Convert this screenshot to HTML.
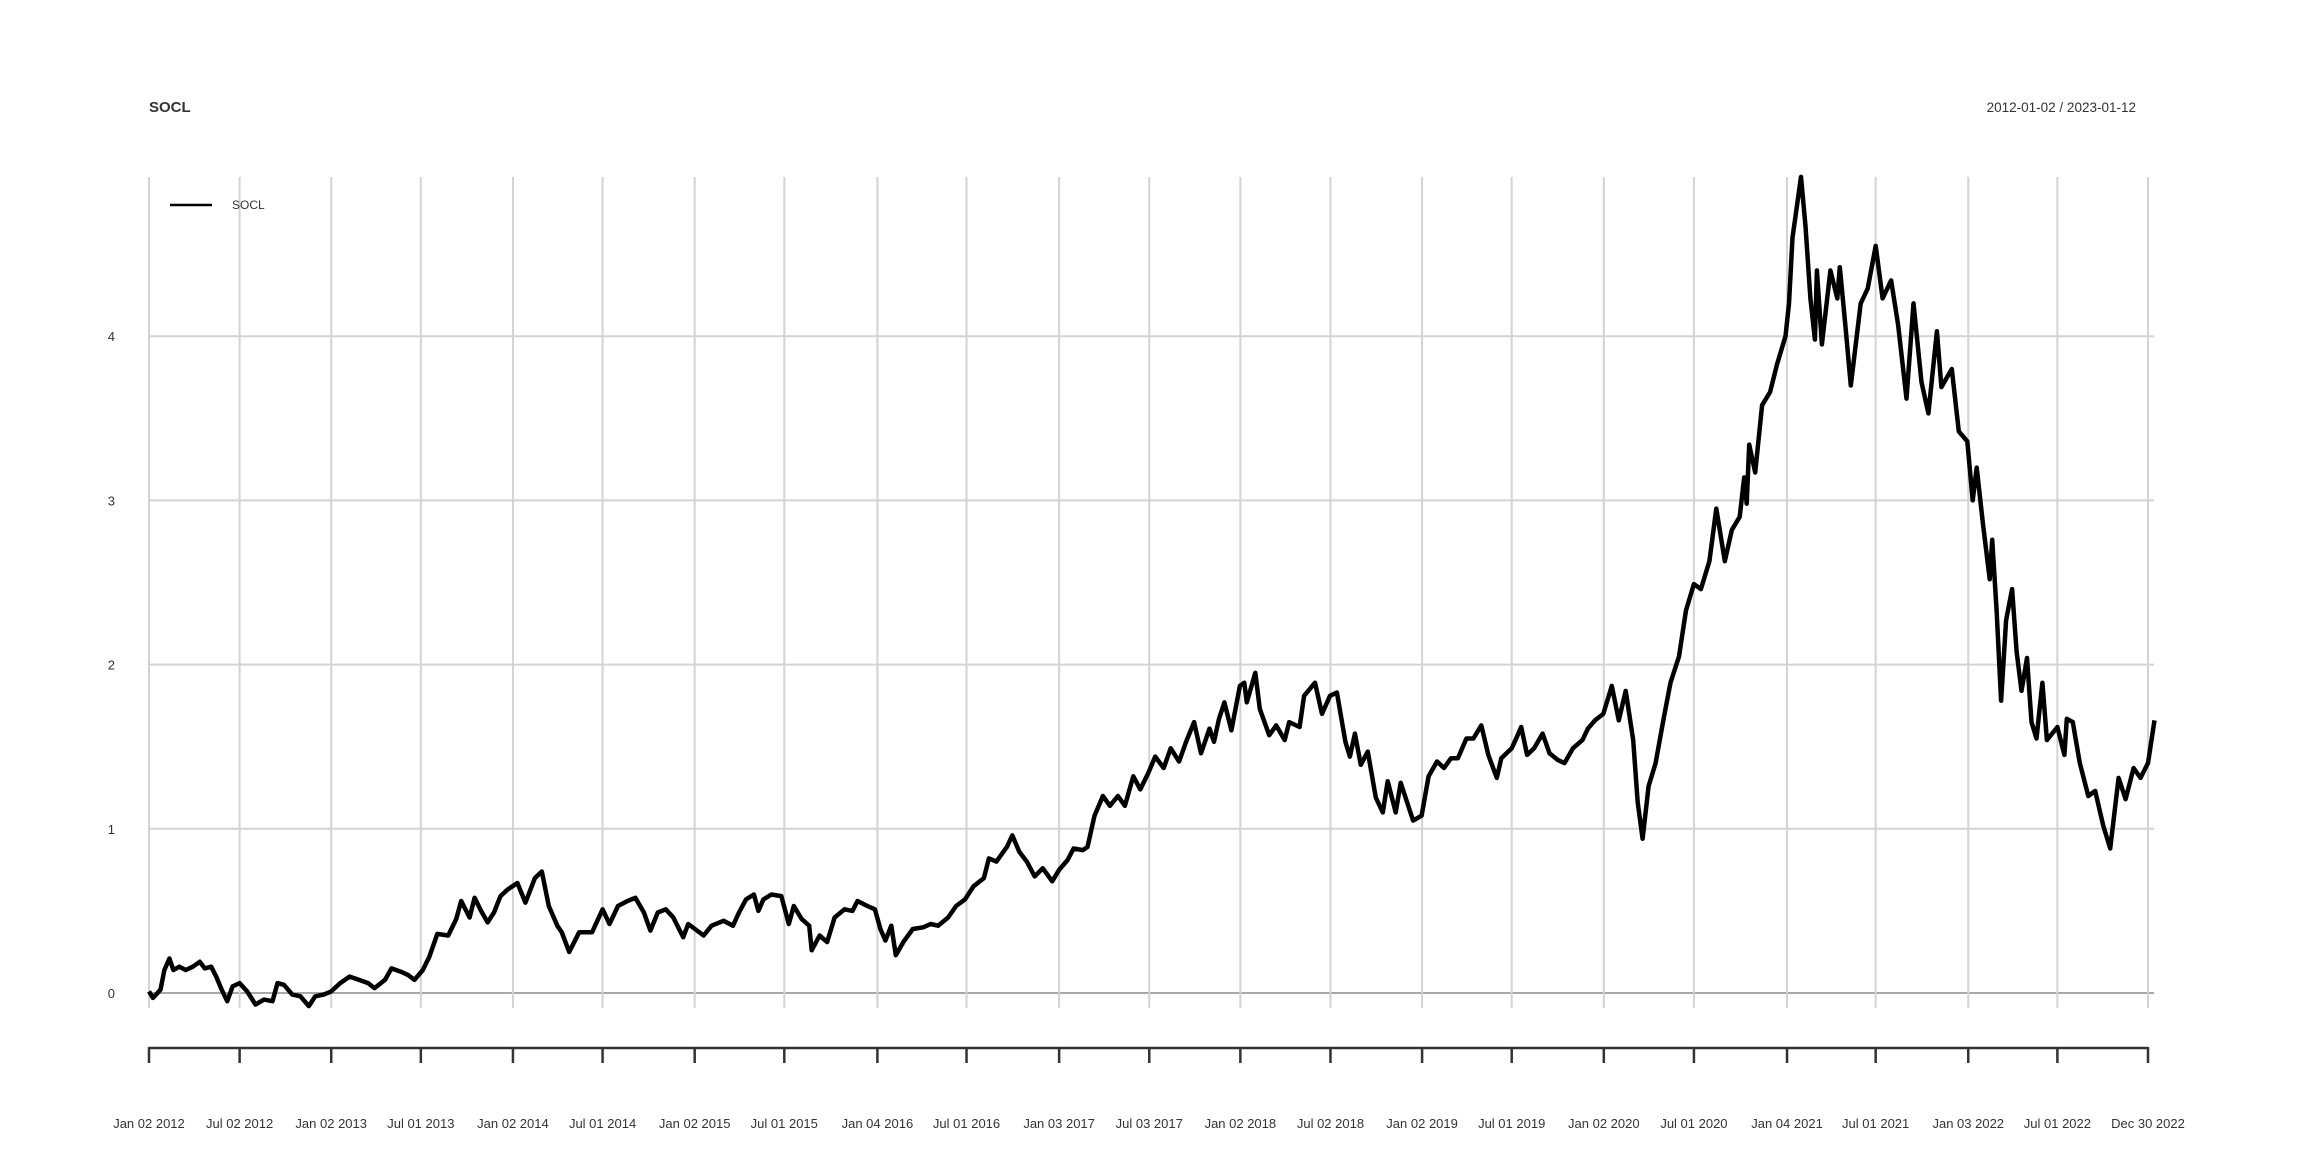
<!DOCTYPE html>
<html><head><meta charset="utf-8"><style>
body{margin:0;background:#fff}
svg{display:block;font-family:"Liberation Sans",sans-serif}
</style></head><body>
<svg id="c" width="2304" height="1152">
<text x="149" y="112" font-size="15" font-weight="bold" fill="#333">SOCL</text>
<text x="2136" y="112" font-size="13.5" fill="#333" text-anchor="end">2012-01-02 / 2023-01-12</text>
<g id="grid"></g>
<g id="series"></g>
<g>
<line x1="170" y1="205" x2="212" y2="205" stroke="#000" stroke-width="2.5"/>
<text x="232" y="209" font-size="12" fill="#333">SOCL</text>
</g>
<g id="xaxis"></g>
</svg>
<script>
const dates=[
"2012-01-02","2012-01-10","2012-01-25","2012-02-02","2012-02-12","2012-02-20","2012-03-03","2012-03-16","2012-03-30","2012-04-13","2012-04-23","2012-05-06","2012-05-16","2012-05-27","2012-06-07","2012-06-18","2012-07-02","2012-07-17","2012-08-03","2012-08-20","2012-09-06","2012-09-16","2012-09-29","2012-10-16","2012-11-01","2012-11-18","2012-12-01","2012-12-18",
"2013-01-02","2013-01-20","2013-02-08","2013-02-27","2013-03-17","2013-03-30","2013-04-20","2013-05-03","2013-05-22","2013-06-05","2013-06-18","2013-07-05","2013-07-18","2013-08-03","2013-08-25","2013-09-10","2013-09-20","2013-10-07","2013-10-17","2013-10-30","2013-11-12","2013-11-25","2013-12-08","2013-12-22",
"2014-01-11","2014-01-27","2014-02-15","2014-03-01","2014-03-15","2014-04-01","2014-04-10","2014-04-25","2014-05-15","2014-06-10","2014-07-01","2014-07-15","2014-08-01","2014-08-20","2014-09-05","2014-09-22","2014-10-05","2014-10-20","2014-11-05","2014-11-20","2014-12-10","2014-12-20",
"2015-01-20","2015-02-05","2015-03-01","2015-03-20","2015-04-01","2015-04-15","2015-05-01","2015-05-10","2015-05-20","2015-06-05","2015-06-25","2015-07-10","2015-07-20","2015-08-05","2015-08-20","2015-08-25","2015-09-10","2015-09-25","2015-10-10","2015-10-30","2015-11-15","2015-11-25","2015-12-15","2015-12-30",
"2016-01-10","2016-01-20","2016-02-01","2016-02-10","2016-02-25","2016-03-15","2016-04-05","2016-04-20","2016-05-05","2016-05-25","2016-06-10","2016-06-28","2016-07-15","2016-08-05","2016-08-15","2016-08-30","2016-09-20","2016-10-01","2016-10-15","2016-10-30","2016-11-15","2016-12-01","2016-12-20",
"2017-01-03","2017-01-20","2017-02-01","2017-02-20","2017-03-01","2017-03-15","2017-04-01","2017-04-15","2017-05-01","2017-05-15","2017-06-01","2017-06-15","2017-07-01","2017-07-15","2017-08-01","2017-08-15","2017-09-01","2017-09-15","2017-10-01","2017-10-15","2017-11-01","2017-11-10","2017-11-20","2017-12-01","2017-12-15",
"2018-01-01","2018-01-10","2018-01-15","2018-02-01","2018-02-10","2018-03-01","2018-03-15","2018-04-01","2018-04-10","2018-05-01","2018-05-10","2018-06-01","2018-06-15","2018-07-01","2018-07-15","2018-08-01","2018-08-10","2018-08-20","2018-09-01","2018-09-15","2018-10-01","2018-10-15","2018-10-25","2018-11-10","2018-11-20","2018-12-15",
"2019-01-01","2019-01-15","2019-02-01","2019-02-15","2019-03-01","2019-03-15","2019-04-01","2019-04-15","2019-05-01","2019-05-15","2019-06-01","2019-06-10","2019-07-01","2019-07-10","2019-07-20","2019-08-01","2019-08-15","2019-09-01","2019-09-15","2019-10-01","2019-10-15","2019-11-01","2019-11-20","2019-12-01","2019-12-15",
"2020-01-01","2020-01-18","2020-02-01","2020-02-15","2020-03-01","2020-03-10","2020-03-20","2020-04-01","2020-04-15","2020-05-01","2020-05-15","2020-06-01","2020-06-15","2020-07-01","2020-07-15","2020-08-01","2020-08-15","2020-09-01","2020-09-15","2020-10-01","2020-10-10","2020-10-15","2020-10-20","2020-11-01","2020-11-15","2020-12-01","2020-12-15",
"2021-01-01","2021-01-08","2021-01-15","2021-02-01","2021-02-10","2021-02-20","2021-03-01","2021-03-05","2021-03-15","2021-04-01","2021-04-15","2021-04-20","2021-05-01","2021-05-12","2021-06-01","2021-06-15","2021-07-01","2021-07-15","2021-08-01","2021-08-15","2021-09-01","2021-09-15","2021-10-01","2021-10-15","2021-11-01","2021-11-10","2021-12-01","2021-12-15",
"2022-01-01","2022-01-12","2022-01-20","2022-02-01","2022-02-15","2022-02-20","2022-03-01","2022-03-10","2022-03-20","2022-04-01","2022-04-10","2022-04-20","2022-05-01","2022-05-10","2022-05-20","2022-06-01","2022-06-10","2022-07-01","2022-07-15","2022-07-20","2022-08-01","2022-08-15","2022-09-01","2022-09-15","2022-10-01","2022-10-15","2022-11-01","2022-11-15","2022-12-01","2022-12-15","2022-12-30","2023-01-12"];
const values=[
0.01,-0.03,0.02,0.14,0.21,0.14,0.16,0.14,0.16,0.19,0.15,0.16,0.1,0.02,-0.05,0.04,0.06,0.01,-0.07,-0.04,-0.05,0.06,0.05,-0.01,-0.02,-0.08,-0.02,-0.01,
0.01,0.06,0.1,0.08,0.06,0.03,0.08,0.15,0.13,0.11,0.08,0.14,0.22,0.36,0.35,0.45,0.56,0.46,0.58,0.5,0.43,0.49,0.59,0.63,
0.67,0.55,0.7,0.74,0.53,0.41,0.37,0.25,0.37,0.37,0.51,0.42,0.53,0.56,0.58,0.49,0.38,0.49,0.51,0.46,0.34,0.42,
0.35,0.41,0.44,0.41,0.49,0.57,0.6,0.5,0.57,0.6,0.59,0.42,0.53,0.45,0.41,0.26,0.35,0.31,0.46,0.51,0.5,0.56,0.53,0.51,
0.39,0.32,0.41,0.23,0.31,0.39,0.4,0.42,0.41,0.46,0.53,0.57,0.65,0.7,0.82,0.8,0.89,0.96,0.86,0.8,0.71,0.76,0.68,
0.75,0.81,0.88,0.87,0.89,1.08,1.2,1.14,1.2,1.14,1.32,1.24,1.34,1.44,1.37,1.49,1.41,1.53,1.65,1.46,1.61,1.53,1.67,1.77,1.6,
1.87,1.89,1.77,1.95,1.73,1.57,1.63,1.54,1.65,1.62,1.81,1.89,1.7,1.81,1.83,1.53,1.44,1.58,1.39,1.47,1.19,1.1,1.29,1.1,1.28,1.05,
1.08,1.32,1.41,1.37,1.43,1.43,1.55,1.55,1.63,1.45,1.31,1.43,1.49,1.55,1.62,1.45,1.49,1.58,1.46,1.42,1.4,1.49,1.54,1.61,1.66,
1.7,1.87,1.66,1.84,1.54,1.16,0.94,1.26,1.4,1.67,1.89,2.05,2.33,2.49,2.46,2.63,2.95,2.63,2.82,2.9,3.14,2.98,3.34,3.17,3.58,3.66,3.83,
4.0,4.2,4.6,4.97,4.67,4.23,3.98,4.4,3.95,4.4,4.23,4.42,4.07,3.7,4.2,4.29,4.55,4.23,4.34,4.07,3.62,4.2,3.72,3.53,4.03,3.69,3.8,3.42,
3.36,3.0,3.2,2.87,2.52,2.76,2.33,1.78,2.27,2.46,2.08,1.84,2.04,1.65,1.55,1.89,1.54,1.62,1.45,1.67,1.65,1.4,1.2,1.23,1.02,0.88,1.31,1.18,1.37,1.31,1.4,1.66];
const tickDates=["2012-01-02","2012-07-02","2013-01-02","2013-07-01","2014-01-02","2014-07-01","2015-01-02","2015-07-01","2016-01-04","2016-07-01","2017-01-03","2017-07-03","2018-01-02","2018-07-02","2019-01-02","2019-07-01","2020-01-02","2020-07-01","2021-01-04","2021-07-01","2022-01-03","2022-07-01","2022-12-30"];
const tickLabels=["Jan 02 2012","Jul 02 2012","Jan 02 2013","Jul 01 2013","Jan 02 2014","Jul 01 2014","Jan 02 2015","Jul 01 2015","Jan 04 2016","Jul 01 2016","Jan 03 2017","Jul 03 2017","Jan 02 2018","Jul 02 2018","Jan 02 2019","Jul 01 2019","Jan 02 2020","Jul 01 2020","Jan 04 2021","Jul 01 2021","Jan 03 2022","Jul 01 2022","Dec 30 2022"];
const yTicks=[0,1,2,3,4];
const NS="http://www.w3.org/2000/svg";
const t0=Date.parse("2012-01-02"),t1=Date.parse("2022-12-30");
function xs(d){return 149+(Date.parse(d)-t0)/(t1-t0)*1999;}
function ys(v){return 993-v*164.2;}
function mk(tag,attrs,parent){const e=document.createElementNS(NS,tag);for(const k in attrs)e.setAttribute(k,attrs[k]);parent.appendChild(e);return e;}
const grid=document.getElementById('grid'),xa=document.getElementById('xaxis'),ser=document.getElementById('series');
yTicks.forEach((v,i)=>{
 const l=mk('line',{x1:149,x2:2154,y1:ys(v),y2:ys(v),stroke:v===0?'#a8a8a8':'#d3d3d3','stroke-width':2},grid);
 
 
 const t=mk('text',{x:115,y:ys(v)+5,'font-size':13,fill:'#333','text-anchor':'end'},grid);
 t.textContent=v;
 
 
});
mk('line',{x1:149,x2:2148,y1:1048,y2:1048,stroke:'#333','stroke-width':2.5},xa);
tickDates.forEach((d,i)=>{
 const x=xs(d);
 const g=mk('line',{x1:x,x2:x,y1:177,y2:1008,stroke:'#d3d3d3','stroke-width':2},grid);
 
 
 const tk=mk('line',{x1:x,x2:x,y1:1047,y2:1063,stroke:'#333','stroke-width':2.5},xa);
 
 
 const t=mk('text',{x:x,y:1128,'font-size':13,fill:'#333','text-anchor':'middle'},xa);
 t.textContent=tickLabels[i];
 
 
});
const pts=values.map((v,i)=>xs(dates[i]).toFixed(1)+","+ys(v).toFixed(1));
const p=mk('polyline',{points:pts.join(' '),fill:'none',stroke:'#000','stroke-width':4.5,'stroke-linejoin':'round'},ser);


</script>
</body></html>
